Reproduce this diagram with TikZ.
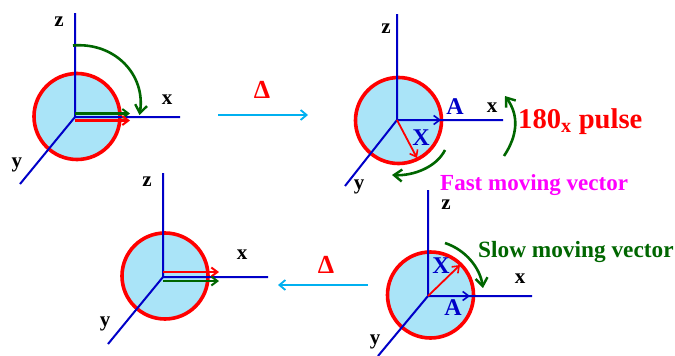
\documentclass[tikz,border=0pt]{standalone}
\usepackage{fontspec}
\setmainfont{Liberation Serif}
\usetikzlibrary{arrows.meta}
\definecolor{axisblue}{RGB}{0,0,200}
\definecolor{disk}{RGB}{170,228,248}
\definecolor{rimred}{RGB}{255,0,0}
\definecolor{dgreen}{RGB}{0,102,0}
\definecolor{cyanline}{RGB}{0,176,240}
\definecolor{magentatext}{RGB}{255,0,255}
\tikzset{
  x=1pt,y=-1pt,
  ax/.style={draw=axisblue,line width=2pt},
  sphere/.style={circle,draw=rimred,fill=disk,line width=3.6pt,minimum size=86pt,inner sep=0pt},
  lab/.style={font=\bfseries\fontsize{21}{21}\selectfont,text=black,inner sep=0pt},
  vlab/.style={font=\bfseries\fontsize{24}{24}\selectfont,text=axisblue,inner sep=0pt},
  delta/.style={font=\fontsize{26}{26}\selectfont\bfseries,text=rimred,inner sep=0pt},
  vec/.style={line width=2.6pt,-{Straight Barb[length=6pt,width=9pt,line width=2pt]}},
  thinvec/.style={line width=1.8pt,-{Straight Barb[length=6pt,width=9pt,line width=1.6pt]}},
  turn/.style={draw=dgreen,line width=2.6pt,-{Straight Barb[length=8pt,width=12pt,line width=2.4pt]}},
  shift arrow/.style={draw=cyanline,line width=2pt,-{Straight Barb[length=6pt,width=10pt,line width=1.8pt]}},
}
\begin{document}
\begin{tikzpicture}
\useasboundingbox (0,0) rectangle (675,356);
% panel 1
\node[sphere] (s1) at (77,116.5) {};
\coordinate (o1) at (75,117);
\coordinate (z1) at (75,13);
\coordinate (x1) at (180,117);
\coordinate (y1) at (20,184);
\draw[ax] (o1)--(z1) (o1)--(x1) (o1)--(y1);
\coordinate (g1a) at (75,113.5); \coordinate (g1b) at (130,113.5);
\coordinate (r1a) at (75,120.5); \coordinate (r1b) at (130,120.5);
\draw[vec,dgreen] (g1a)--(g1b);
\draw[vec,rimred] (r1a)--(r1b);
\coordinate (t1a) at (73,45.5); \coordinate (t1b) at (139.5,115);
\draw[turn] (t1a) .. controls (115,42) and (146,75) .. (t1b);
\node[lab] (lz1) at (59,22) {z};
\node[lab] (lx1) at (167,100) {x};
\node[lab] (ly1) at (17,165) {y};
% panel 2
\node[sphere] (s2) at (398.5,120.5) {};
\coordinate (o2) at (397,120);
\coordinate (z2) at (397,14);
\coordinate (x2) at (503,120);
\coordinate (y2) at (345,186);
\draw[ax] (o2)--(z2) (o2)--(x2) (o2)--(y2);
\coordinate (a2) at (441,120); \coordinate (r2) at (417,158);
\draw[thinvec,axisblue,line width=2.2pt] (o2)--(a2);
\draw[thinvec,rimred] (o2)--(r2);
\coordinate (t2a) at (445,150); \coordinate (t2b) at (392,175);
\draw[turn] (t2a) .. controls (436,168) and (412,176) .. (t2b);
\coordinate (t3a) at (504,156); \coordinate (t3b) at (505,96);
\draw[turn] (t3a) .. controls (518,135) and (519,115) .. (t3b);
\node[lab] (lz2) at (386,29) {z};
\node[lab] (lx2) at (492,108) {x};
\node[lab] (ly2) at (359,187) {y};
\node[vlab] (la2) at (455,107) {A};
\node[vlab] (lb2) at (421,138) {X};
\node[anchor=west,inner sep=0pt,text=rimred,font=\bfseries\fontsize{28.6}{28.6}\selectfont] (pulse) at (518,122) {180\textsubscript{x} pulse};
\node[anchor=west,inner sep=0pt,text=magentatext,font=\bfseries\fontsize{23}{23}\selectfont] (fast) at (440,185) {Fast moving vector};
% panel 3
\node[sphere] (s3) at (430.5,295) {};
\coordinate (o3) at (428,296);
\coordinate (z3) at (428,190);
\coordinate (x3) at (532,296);
\coordinate (y3) at (378,356);
\draw[ax] (o3)--(z3) (o3)--(x3) (o3)--(y3);
\coordinate (a3) at (470,296); \coordinate (r3) at (460,265);
\draw[thinvec,axisblue,line width=2.4pt] (o3)--(a3);
\draw[thinvec,rimred] (o3)--(r3);
\coordinate (t4a) at (445,243); \coordinate (t4b) at (483,288);
\draw[turn] (t4a) .. controls (466,250) and (480,268) .. (t4b);
\node[lab] (lz3) at (446,205) {z};
\node[lab] (lx3) at (520,279) {x};
\node[lab] (ly3) at (375,342) {y};
\node[vlab] (la3) at (453,308) {A};
\node[vlab] (lb3) at (441,266) {X};
\node[anchor=west,inner sep=0pt,text=dgreen,font=\bfseries\fontsize{23.3}{23.3}\selectfont] (slow) at (478,252) {Slow moving vector};
% panel 4
\node[sphere] (s4) at (165,276) {};
\coordinate (o4) at (163,277);
\coordinate (z4) at (163,173);
\coordinate (x4) at (268,277);
\coordinate (y4) at (108,344);
\draw[ax] (o4)--(z4) (o4)--(x4) (o4)--(y4);
\coordinate (r4a) at (163,272); \coordinate (r4b) at (219,272);
\coordinate (g4a) at (163,281); \coordinate (g4b) at (219,281);
\draw[vec,rimred] (r4a)--(r4b);
\draw[vec,dgreen] (g4a)--(g4b);
\node[lab] (lz4) at (147,182) {z};
\node[lab] (lx4) at (242,255) {x};
\node[lab] (ly4) at (105,324) {y};
% shift arrows
\coordinate (d1a) at (218,115); \coordinate (d1b) at (308,115);
\coordinate (d2a) at (368,285); \coordinate (d2b) at (278,285);
\draw[shift arrow] (d1a)--(d1b);
\draw[shift arrow] (d2a)--(d2b);
\node[delta] (dl1) at (262,90) {Δ};
\node[delta] (dl2) at (326,265) {Δ};
\end{tikzpicture}
\end{document}
